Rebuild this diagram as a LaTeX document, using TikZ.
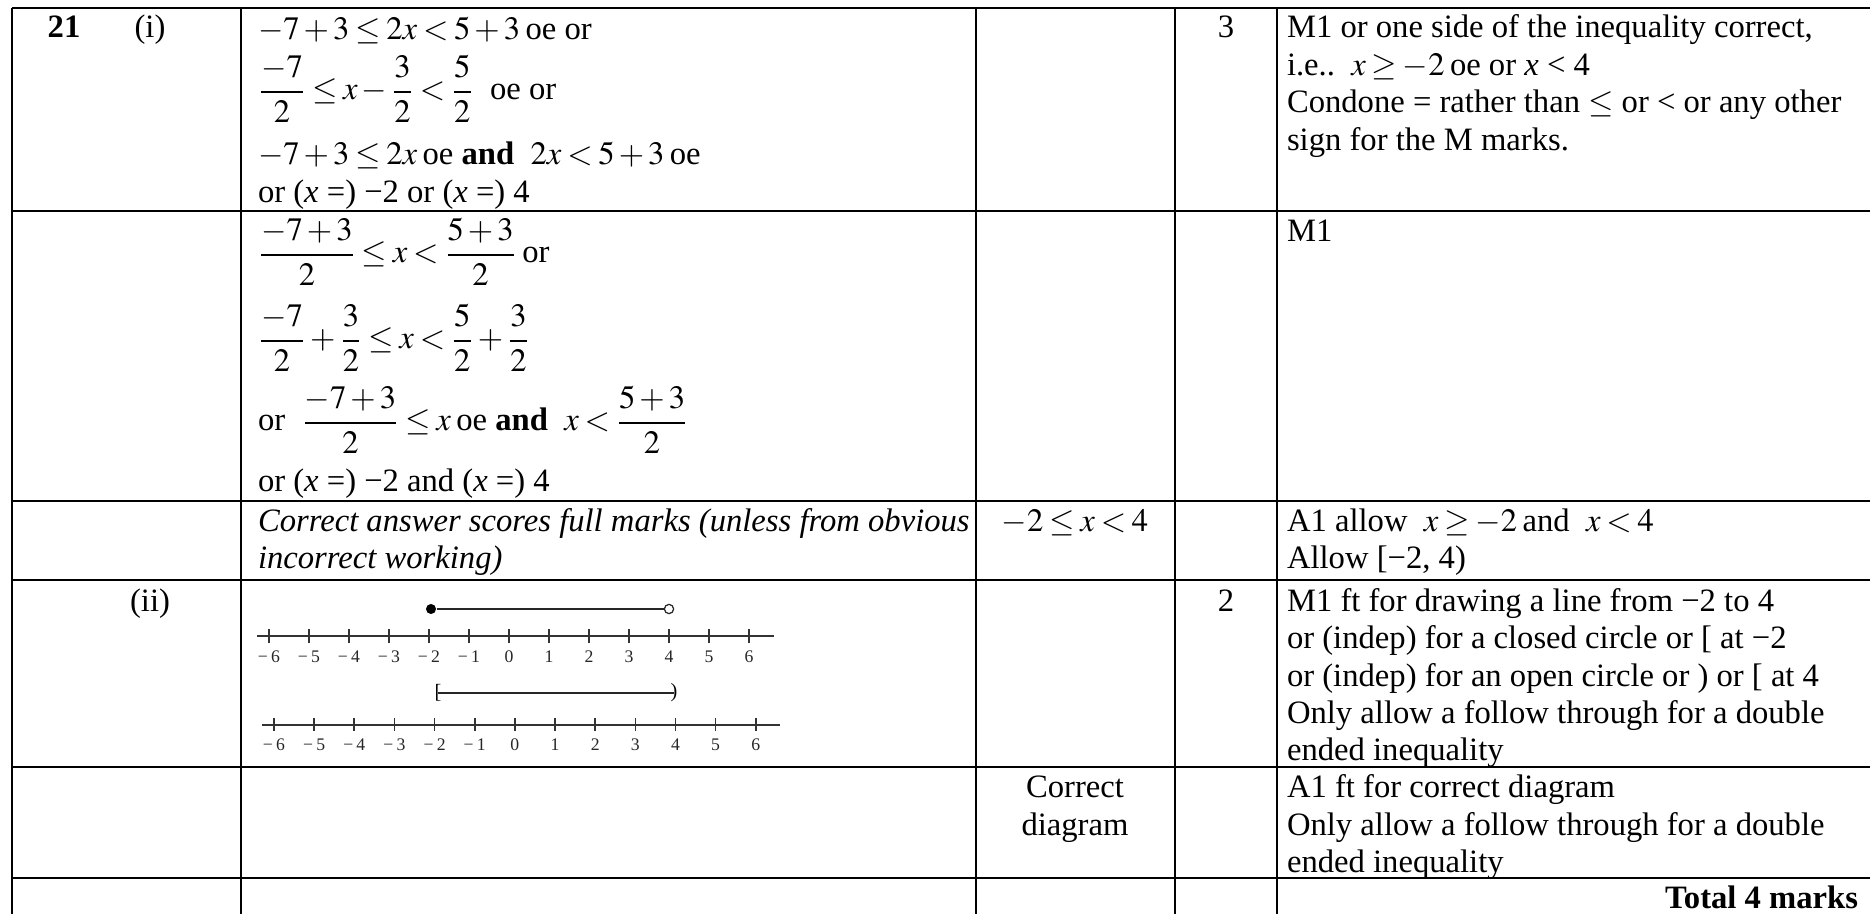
\documentclass[tikz,border=0pt]{standalone}
\usepackage{amsmath}
\usepackage{mathptmx}
\usepackage{fontspec}
\setmainfont{Liberation Serif}
\medmuskip=2.2mu plus 1mu minus 1mu
\thickmuskip=3.2mu plus 2mu
\newcommand\myfrac[2]{\genfrac{}{}{0.55pt}{0}{#1}{#2}}
\tikzset{
  grid/.style={line width=1.05pt},
  txt/.style={anchor=base west, inner sep=0pt, outer sep=0pt, font=\fontsize{12}{13.8}\selectfont},
  ctr/.style={anchor=base, inner sep=0pt, outer sep=0pt, font=\fontsize{12}{13.8}\selectfont},
  lab/.style={anchor=base, inner sep=0pt, outer sep=0pt, font=\fontsize{6.5}{7}\selectfont, text=black!85},
  axisline/.style={line width=0.6pt, draw=black!80},
  ival/.style={line width=0.6pt, draw=black!85},
}
\begin{document}
\begin{tikzpicture}[x=0.36765pt, y=-0.36765pt]
\useasboundingbox (0,0) rectangle (1870,914);
% ---- table rules
\draw[grid] (12,8) -- (1872,8);
\draw[grid] (12,8) -- (12,916);
\foreach \cx in {241,976,1175,1277} \draw[grid] (\cx,8) -- (\cx,916);
\foreach \ry in {211,501,580,767,878} \draw[grid] (12,\ry) -- (1872,\ry);
% ---- first column
\node[ctr, font=\fontsize{12}{13.8}\selectfont\bfseries] (q21) at (64,38) {21};
\node[ctr] (pi) at (150,38) {(i)};
\node[ctr] (pii) at (150,611) {(ii)};
% ---- working column
\node[txt] (w1) at (258,40) {$-7+3\le 2x<5+3$\,oe or};
\node[txt] (w2) at (258,100) {$\myfrac{-7}{2}\le x-\myfrac{3}{2}<\myfrac{5}{2}$\ \ oe or};
\node[txt] (w3) at (258,165) {$-7+3\le 2x$\,oe \textbf{and}\ \ $2x<5+3$\,oe};
\node[txt] (w4) at (258,203) {or (\textit{x} =) −2 or (\textit{x} =) 4};
\node[txt] (w5) at (258,263) {$\myfrac{-7+3}{2}\le x<\myfrac{5+3}{2}$\,or};
\node[txt] (w6) at (258,349) {$\myfrac{-7}{2}+\myfrac{3}{2}\le x<\myfrac{5}{2}+\myfrac{3}{2}$};
\node[txt] (w7) at (258,431) {or\ \ $\myfrac{-7+3}{2}\le x$\,oe \textbf{and}\ \ $x<\myfrac{5+3}{2}$};
\node[txt] (w8) at (258,491) {or (\textit{x} =) −2 and (\textit{x} =) 4};
\node[txt] (w9) at (258,531) {\itshape Correct answer scores full marks (unless from obvious};
\node[txt] (w10) at (258,569) {\itshape incorrect working)};
% ---- answer column
\node[ctr] (a1) at (1075,531) {$-2\le x<4$};
\node[ctr] (a2) at (1075,797) {Correct};
\node[ctr] (a3) at (1075,835) {diagram};
% ---- marks column
\node[ctr] (m1) at (1226,38) {3};
\node[ctr] (m2) at (1226,611) {2};
% ---- notes column
\node[txt] (g1) at (1287,38) {M1 or one side of the inequality correct,};
\node[txt] (g2) at (1287,76) {i.e..\ \ $x\ge -2$\,oe or \textit{x} < 4};
\node[txt] (g3) at (1287,113) {Condone = rather than $\le$ or < or any other};
\node[txt] (g4) at (1287,151) {sign for the M marks.};
\node[txt] (g5) at (1287,242) {M1};
\node[txt] (g6) at (1287,531) {A1 allow\ \ $x\ge -2$\,and\ \ $x<4$};
\node[txt] (g7) at (1287,569) {Allow [−2, 4)};
\node[txt] (g8) at (1287,611) {M1 ft for drawing a line from −2 to 4};
\node[txt] (g9) at (1287,648) {or (indep) for a closed circle or [ at −2};
\node[txt] (g10) at (1287,686) {or (indep) for an open circle or ) or [ at 4};
\node[txt] (g11) at (1287,723) {Only allow a follow through for a double};
\node[txt] (g12) at (1287,760) {ended inequality};
\node[txt] (g13) at (1287,797) {A1 ft for correct diagram};
\node[txt] (g14) at (1287,835) {Only allow a follow through for a double};
\node[txt] (g15) at (1287,872) {ended inequality};
\node[txt, anchor=base east] (tot) at (1858,908) {\textbf{Total 4 marks}};
% ---- number line 1
\draw[axisline] (257,636) -- (774,636);
\foreach \i in {-6,...,6} {
  \draw[axisline] ({269+40*(\i+6)},629) -- ({269+40*(\i+6)},643);
  \node[lab] (la\i) at ({269+40*(\i+6)},662) {\ifnum\i<0 −\kern1.2pt\the\numexpr-\i\relax\else\i\fi};
}
\node[circle, fill=black, inner sep=0pt, minimum size=3.7pt] (d1) at (431,609) {};
\node[circle, draw=black!85, fill=white, line width=0.45pt, inner sep=0pt, minimum size=3.4pt] (d2) at (669,609) {};
\draw[ival] (d1) -- (d2);
% ---- number line 2
\draw[axisline] (262,725) -- (780,725);
\foreach \i in {-6,...,6} {
  \draw[axisline] ({274+40.15*(\i+6)},718) -- ({274+40.15*(\i+6)},731);
  \node[lab] (lb\i) at ({274+40.15*(\i+6)},750) {\ifnum\i<0 −\kern1.2pt\the\numexpr-\i\relax\else\i\fi};
}
\node[inner sep=0pt, font=\fontsize{7.5}{8}\selectfont] (b1) at (438,693) {[};
\node[inner sep=0pt, font=\fontsize{7.5}{8}\selectfont] (b2) at (674,693) {)};
\draw[ival] (b1.center) -- (b2.center);
\end{tikzpicture}
\end{document}
